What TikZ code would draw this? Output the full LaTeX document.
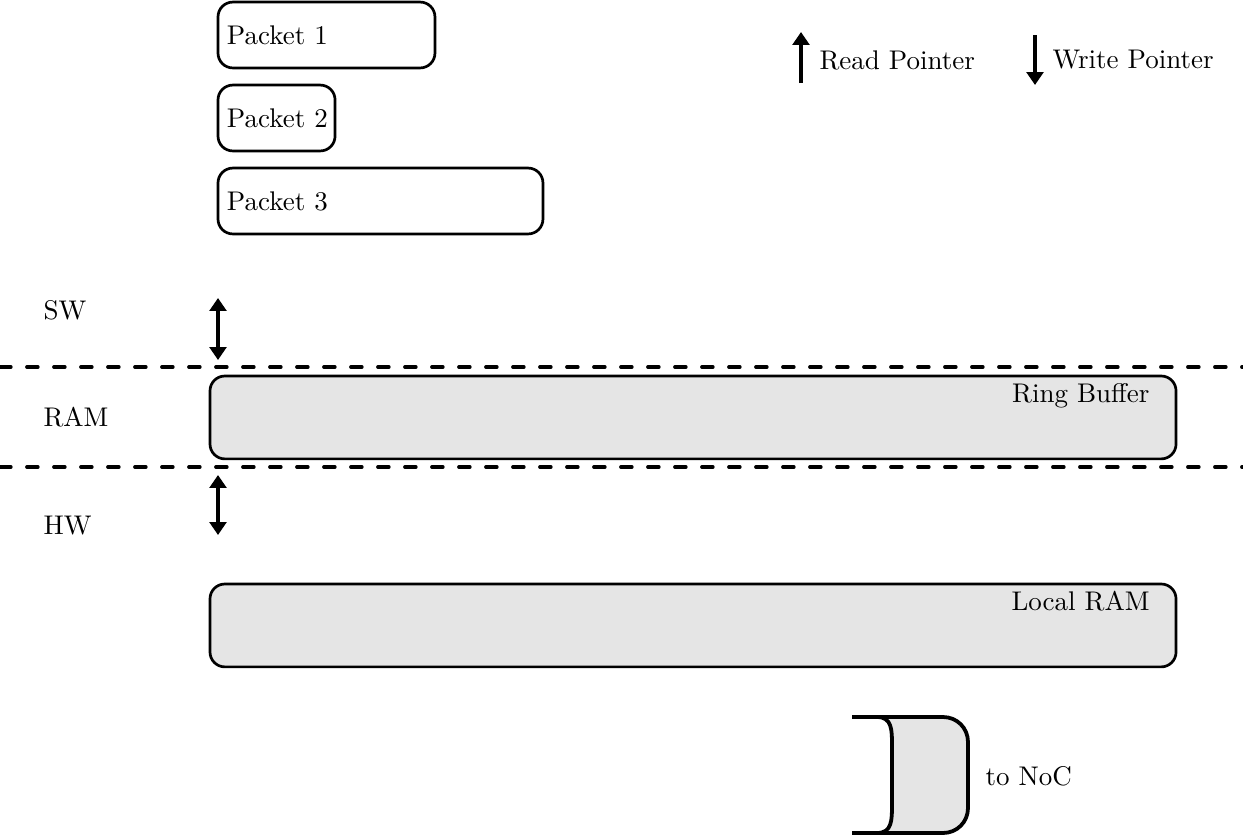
\documentclass[tikz,border=0pt]{standalone}
\usetikzlibrary{arrows.meta,calc}
\definecolor{boxgray}{RGB}{229,229,229}
\begin{document}
\begin{tikzpicture}[x=0.37037pt,y=-0.37037pt,
  pkt/.style={draw, line width=1pt, rounded corners=5.5pt, minimum height=24.4pt, anchor=west, align=left, inner sep=3.33pt, outer sep=0pt},
  membox/.style={draw, line width=1pt, fill=boxgray, rounded corners=5.5pt, minimum width=357.8pt, minimum height=30.7pt, anchor=north west, inner sep=0pt, outer sep=0pt},
  lbl/.style={anchor=west, inner sep=0pt},
  boxlbl/.style={anchor=north east, inner sep=0pt},
  dbl/.style={{Triangle[length=4.8pt,width=6.2pt]}-{Triangle[length=4.8pt,width=6.2pt]}, line width=1.2pt},
  ptr/.style={-{Triangle[length=4.8pt,width=6.2pt]}, line width=1.2pt},
  sepline/.style={line width=1.4pt, dash pattern=on 4pt off 6pt, line cap=round},
  nocline/.style={line width=1.4pt, line join=round}]
\useasboundingbox (0,0) rectangle (1243,836);

% packets
\node[pkt, text width=73.7pt] (p1) at (218,35) {Packet 1};
\node[pkt, text width=36.7pt] (p2) at (218,118) {Packet~2};
\node[pkt, text width=113.7pt] (p3) at (218,201) {Packet 3};

% legend
\coordinate (rp0) at (801,83);
\coordinate (rp1) at (801,32);
\draw[ptr] (rp0) -- (rp1);
\node[lbl] (rpl) at (819,60) {Read Pointer};
\coordinate (wp0) at (1035,35);
\coordinate (wp1) at (1035,85);
\draw[ptr] (wp0) -- (wp1);
\node[lbl] (wpl) at (1052,60) {Write Pointer};

% layer labels
\node[lbl] (sw) at (43,310) {SW};
\node[lbl] (ram) at (43,417) {RAM};
\node[lbl] (hw) at (43,526) {HW};

% separators
\coordinate (s1a) at (0,367);
\coordinate (s1b) at (1243,367);
\coordinate (s2a) at (0,467);
\coordinate (s2b) at (1243,467);
\draw[sepline] (s1a) -- (s1b);
\draw[sepline] (s2a) -- (s2b);

% double arrows
\coordinate (a1t) at (218,298);
\coordinate (a1b) at (218,360);
\draw[dbl] (a1t) -- (a1b);
\coordinate (a2t) at (218,475);
\coordinate (a2b) at (218,535);
\draw[dbl] (a2t) -- (a2b);

% memory boxes
\node[membox] (rb) at (210,376) {};
\node[boxlbl] (rbl) at ($(rb.north east)+(-26,7)$) {Ring Buffer};
\node[membox] (lr) at (210,584) {};
\node[boxlbl] (lrl) at ($(lr.north east)+(-26,7)$) {Local RAM};

% NoC connector
\fill[boxgray] (877,717) .. controls (892,717) and (892,730) .. (892,745) -- (892,805)
  .. controls (892,820) and (892,833) .. (877,833) -- (943,833)
  .. controls (957,833) and (968,822) .. (968,808) -- (968,742)
  .. controls (968,728) and (957,717) .. (943,717) -- cycle;
\draw[nocline] (852,717) -- (877,717) .. controls (892,717) and (892,730) .. (892,745) -- (892,805)
  .. controls (892,820) and (892,833) .. (877,833) -- (852,833);
\draw[nocline] (877,717) -- (943,717) .. controls (957,717) and (968,728) .. (968,742) -- (968,808)
  .. controls (968,822) and (957,833) .. (943,833) -- (877,833);
\node[lbl] (noc) at (985,776) {to NoC};
\end{tikzpicture}
\end{document}
